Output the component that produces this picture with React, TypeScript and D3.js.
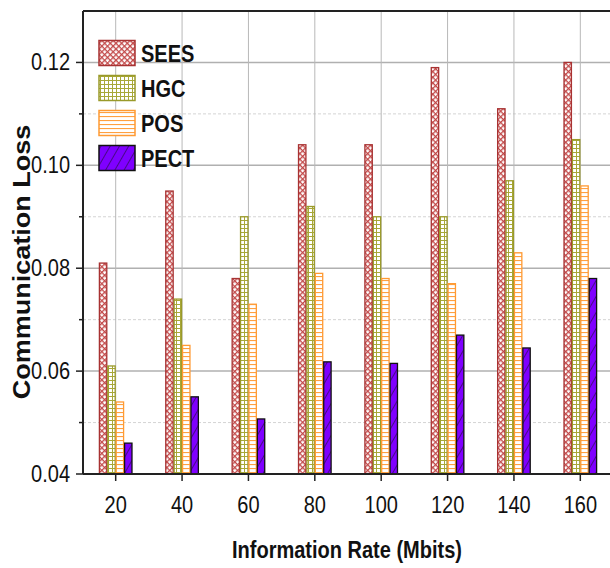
import React from "react";
import * as d3 from "d3";

// Communication loss per information rate, one series per scheme
const rates = [20, 40, 60, 80, 100, 120, 140, 160];
const sees = [0.081, 0.095, 0.078, 0.104, 0.104, 0.119, 0.111, 0.12];
const hgc = [0.061, 0.074, 0.09, 0.092, 0.09, 0.09, 0.097, 0.105];
const pos = [0.054, 0.065, 0.073, 0.079, 0.078, 0.077, 0.083, 0.096];
const pect = [0.046, 0.055, 0.0507, 0.0618, 0.0615, 0.067, 0.0645, 0.078];
const seriesNames = ["SEES", "HGC", "POS", "PECT"];
const yMajorTicks = [0.04, 0.06, 0.08, 0.1, 0.12];
const yMinorTicks = [0.05, 0.07, 0.09, 0.11];

const W = 610;
const H = 568;
const left = 83;
const top = 11;
const bottom = 474;

const FONT = "Arial, 'Liberation Sans', Helvetica, sans-serif";
const SQX = 0.87; // glyphs are drawn narrower than wide

const styles = [
  { stroke: "#a83232", fill: "url(#pSees)" },
  { stroke: "#9a9a2a", fill: "url(#pHgc)" },
  { stroke: "#ff9a33", fill: "url(#pPos)" },
  { stroke: "#111111", fill: "url(#pPect)" },
];

function Txt({ x, y, size, bold, anchor, rotate, children }: any) {
  const tf = rotate
    ? `translate(${x},${y}) rotate(-90) scale(1,${SQX})`
    : `translate(${x},${y}) scale(${SQX},1)`;
  return (
    <text
      transform={tf}
      fontFamily={FONT}
      fontSize={size}
      fontWeight={bold ? "bold" : "normal"}
      textAnchor={anchor || "start"}
      fill="#111"
    >
      {children}
    </text>
  );
}

export default function App() {
  const x = d3.scaleLinear().domain([10, 170]).range([82.5, 613.5]);
  const y = d3.scaleLinear().domain([0.04, 0.13]).range([bottom, top]);
  const fmt = d3.format(".2f");
  const span = 2.53; // width of one bar in rate units
  const bw = x(span) - x(0);
  const data = [sees, hgc, pos, pect];

  return (
    <svg
      width={W}
      height={H}
      style={{ position: "absolute", left: 0, top: 0, background: "#fff" }}
    >
      <defs>
        <pattern id="pSees" width="4" height="4" patternUnits="userSpaceOnUse" patternTransform="rotate(45)">
          <rect width="4" height="4" fill="#fff" />
          <line x1="0" y1="0.5" x2="4" y2="0.5" stroke="#c24848" strokeWidth="1.6" />
          <line x1="0.5" y1="0" x2="0.5" y2="4" stroke="#c24848" strokeWidth="1.6" />
        </pattern>
        <pattern id="pHgc" width="4" height="4" patternUnits="userSpaceOnUse">
          <rect width="4" height="4" fill="#fff" />
          <line x1="0" y1="0.5" x2="4" y2="0.5" stroke="#a8a838" strokeWidth="1" />
          <line x1="0.5" y1="0" x2="0.5" y2="4" stroke="#a8a838" strokeWidth="1" />
        </pattern>
        <pattern id="pPos" width="4" height="4" patternUnits="userSpaceOnUse">
          <rect width="4" height="4" fill="#fff" />
          <line x1="0" y1="0.5" x2="4" y2="0.5" stroke="#ffa040" strokeWidth="1.2" />
        </pattern>
        <pattern id="pPect" width="8" height="8" patternUnits="userSpaceOnUse" patternTransform="rotate(30)">
          <rect width="8" height="8" fill="#7f00ff" />
          <line x1="0" y1="0" x2="0" y2="8" stroke="#111" strokeWidth="1" />
        </pattern>
      </defs>

      {/* minor horizontal grid */}
      {yMinorTicks.map((t) => (
        <line key={"mn" + t} x1={left} x2={W} y1={y(t)} y2={y(t)} stroke="#d4d4d4" strokeWidth={1} strokeDasharray="3,2" />
      ))}
      {/* major horizontal grid */}
      {yMajorTicks.slice(1).map((t) => (
        <line key={"mj" + t} x1={left} x2={W} y1={y(t)} y2={y(t)} stroke="#b0b0b0" strokeWidth={1.5} />
      ))}
      {/* vertical grid */}
      {rates.map((r) => (
        <line key={"vg" + r} x1={x(r)} x2={x(r)} y1={top} y2={bottom} stroke="#b8b8b8" strokeWidth={1} />
      ))}

      {/* bars */}
      {data.map((vals, si) =>
        vals.map((v, i) => {
          const bx = x(rates[i]) + (si - 2) * bw;
          return (
            <rect
              key={si + "-" + i}
              x={bx + 0.5}
              y={y(v)}
              width={bw - 1}
              height={bottom - y(v)}
              fill={styles[si].fill}
              stroke={styles[si].stroke}
              strokeWidth={1.3}
            />
          );
        })
      )}

      {/* axes frame */}
      <line x1={left} x2={left} y1={top} y2={bottom} stroke="#222" strokeWidth={2} />
      <line x1={left} x2={W} y1={bottom} y2={bottom} stroke="#222" strokeWidth={2} />
      <line x1={left} x2={W} y1={top} y2={top} stroke="#222" strokeWidth={2} />

      {/* y ticks */}
      {yMajorTicks.map((t) => (
        <g key={"yt" + t}>
          <line x1={left - 7} x2={left} y1={y(t)} y2={y(t)} stroke="#222" strokeWidth={1.5} />
          <Txt x={70} y={y(t) + 8} size={23} anchor="end">
            {fmt(t)}
          </Txt>
        </g>
      ))}
      {yMinorTicks.map((t) => (
        <line key={"ym" + t} x1={left - 4} x2={left} y1={y(t)} y2={y(t)} stroke="#222" strokeWidth={1.5} />
      ))}

      {/* x ticks */}
      {rates.map((r) => (
        <g key={"xt" + r}>
          <line x1={x(r)} x2={x(r)} y1={bottom} y2={bottom + 7} stroke="#222" strokeWidth={1.5} />
          <Txt x={x(r)} y={513} size={23} anchor="middle">
            {r}
          </Txt>
        </g>
      ))}

      {/* axis titles */}
      <Txt x={347} y={558} size={23} bold anchor="middle">
        Information Rate (Mbits)
      </Txt>
      <Txt x={30} y={262} size={27} bold anchor="middle" rotate>
        Communication Loss
      </Txt>

      {/* legend */}
      {seriesNames.map((name, i) => {
        const cy = 53 + i * 35;
        return (
          <g key={name}>
            <rect x={99} y={cy - 12.5} width={36} height={25} fill={styles[i].fill} stroke={styles[i].stroke} strokeWidth={1.5} />
            <Txt x={141} y={cy + 8.5} size={23} bold>
              {name}
            </Txt>
          </g>
        );
      })}
    </svg>
  );
}
